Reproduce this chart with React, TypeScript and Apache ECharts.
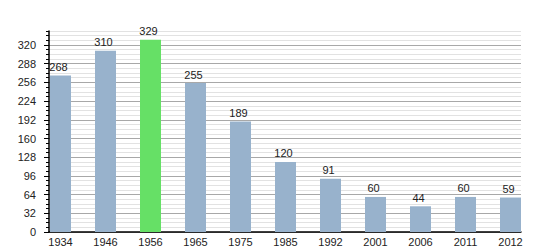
import React, { useEffect, useRef } from "react";
import * as echarts from "echarts";

const years = ["1934", "1946", "1956", "1965", "1975", "1985", "1992", "2001", "2006", "2011", "2012"];
const population = [268, 310, 329, 255, 189, 120, 91, 60, 44, 60, 59];
const highlightYear = "1956";

const FONT = "'Liberation Sans', Arial, sans-serif";
const TOP = 31;
const HEIGHT = 201;
const YMAX = 344;

export default function App() {
  const ref = useRef<HTMLDivElement>(null);
  useEffect(() => {
    if (!ref.current) return;
    document.body.style.margin = "0";
    const chart = echarts.init(ref.current, null, { renderer: "svg" });
    chart.setOption({
      animation: false,
      textStyle: { fontFamily: FONT },
      grid: [
        { left: 49, top: TOP, width: 472, height: HEIGHT },
        { left: 38, top: TOP, width: 495, height: HEIGHT },
      ],
      xAxis: [
        {
          gridIndex: 0,
          type: "value",
          min: 0,
          max: 1,
          axisLine: { show: true, lineStyle: { color: "#000", width: 1.5 } },
          axisTick: { show: false },
          axisLabel: { show: false },
          splitLine: { show: false },
        },
        {
          gridIndex: 1,
          type: "category",
          data: years,
          axisLine: { show: false },
          axisTick: { show: false },
          axisLabel: { color: "#222", fontSize: 11, margin: 4, fontFamily: FONT },
          splitLine: { show: false },
        },
      ],
      yAxis: [
        {
          gridIndex: 0,
          type: "value",
          position: "left",
          min: 0,
          max: YMAX,
          interval: 8,
          axisLine: { show: true, lineStyle: { color: "#000", width: 1.5 } },
          axisTick: { show: true, length: 3, lineStyle: { color: "#000" } },
          axisLabel: { show: false },
          splitLine: {
            show: true,
            lineStyle: { color: ["#a8a8a8", "#e2e2e2", "#e2e2e2", "#e2e2e2"], width: 1 },
          },
        },
        {
          gridIndex: 0,
          type: "value",
          position: "left",
          min: 0,
          max: YMAX,
          interval: 32,
          axisLine: { show: false },
          axisTick: { show: true, length: 5, lineStyle: { color: "#000" } },
          axisLabel: { color: "#222", fontSize: 11, margin: 13, showMaxLabel: false, fontFamily: FONT },
          splitLine: { show: false },
        },
        {
          gridIndex: 1,
          type: "value",
          min: 0,
          max: YMAX,
          show: false,
          splitLine: { show: false },
        },
      ],
      series: [
        {
          type: "bar",
          xAxisIndex: 1,
          yAxisIndex: 2,
          barWidth: 21,
          data: population.map((v, i) => ({
            value: v,
            itemStyle: { color: years[i] === highlightYear ? "#66e066" : "#98b2cc" },
          })),
          label: {
            show: true,
            position: "top",
            distance: 3,
            offset: [-2, 0],
            color: "#222",
            fontSize: 11,
            fontFamily: FONT,
          },
        },
      ],
    });
    return () => chart.dispose();
  }, []);
  return <div ref={ref} style={{ width: 550, height: 250 }} />;
}
